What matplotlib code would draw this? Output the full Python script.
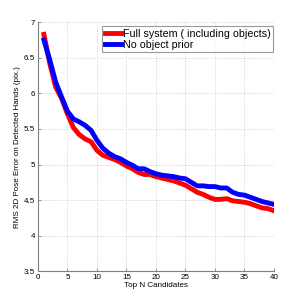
import matplotlib
matplotlib.use("Agg")
import matplotlib.pyplot as plt

n_candidates = list(range(1, 41))
full_system = [6.83, 6.42, 6.09, 5.93, 5.71, 5.52, 5.42, 5.36, 5.32, 5.20,
               5.13, 5.10, 5.07, 5.03, 4.98, 4.94, 4.89, 4.86, 4.86, 4.83,
               4.81, 4.79, 4.77, 4.74, 4.71, 4.66, 4.61, 4.58, 4.54, 4.51,
               4.51, 4.52, 4.49, 4.48, 4.47, 4.45, 4.42, 4.39, 4.38, 4.35]
no_object_prior = [6.75, 6.47, 6.16, 5.95, 5.75, 5.64, 5.60, 5.55, 5.48, 5.34,
                   5.23, 5.16, 5.11, 5.08, 5.03, 4.99, 4.94, 4.94, 4.90, 4.87,
                   4.85, 4.84, 4.83, 4.81, 4.80, 4.75, 4.70, 4.70, 4.69, 4.69,
                   4.67, 4.67, 4.61, 4.58, 4.57, 4.54, 4.51, 4.48, 4.46, 4.44]
labels = ["Full system ( including objects)", "No object prior"]

plt.rcParams['font.family'] = ['Liberation Sans', 'DejaVu Sans']
fig = plt.figure(figsize=(2.99, 3.01), dpi=100)
ax = fig.add_axes([0.127, 0.099, 0.789, 0.827])
ax.plot(n_candidates, full_system, color='#ff0000', lw=3.5, label=labels[0])
ax.plot(n_candidates, no_object_prior, color='#0000ff', lw=3.5, label=labels[1])
ax.set_xlim(0, 40)
ax.set_ylim(3.5, 7)
ax.set_xticks(range(0, 41, 5))
ax.set_yticks([3.5, 4, 4.5, 5, 5.5, 6, 6.5, 7])
ax.set_yticklabels(['3.5', '4', '4.5', '5', '5.5', '6', '6.5', '7'])
ax.grid(True, color='#c8c8c8', linestyle=(0, (1, 1.5)), linewidth=0.6)
ax.set_axisbelow(True)
for s in ['top', 'right']:
    ax.spines[s].set_visible(False)
for s in ['left', 'bottom']:
    ax.spines[s].set_color('#808080')
    ax.spines[s].set_linewidth(0.8)
ax.tick_params(direction='in', length=2, width=0.6, color='#808080', labelsize=5.8, pad=2)
ax.set_xlabel('Top N Candidates', fontsize=5.8, labelpad=1)
ax.set_ylabel('RMS 2D Pose Error on Detected Hands (pix.)', fontsize=5.8, labelpad=2)
leg = ax.legend(loc='upper left', bbox_to_anchor=(0.271, 0.985), fontsize=7.7, frameon=True,
                fancybox=False, handlelength=1.5, handletextpad=0.2, borderpad=0.25,
                labelspacing=0.1, borderaxespad=0.0)
leg.get_frame().set_edgecolor('#808080')
leg.get_frame().set_linewidth(0.8)
fig.savefig('out.png', dpi=100)
